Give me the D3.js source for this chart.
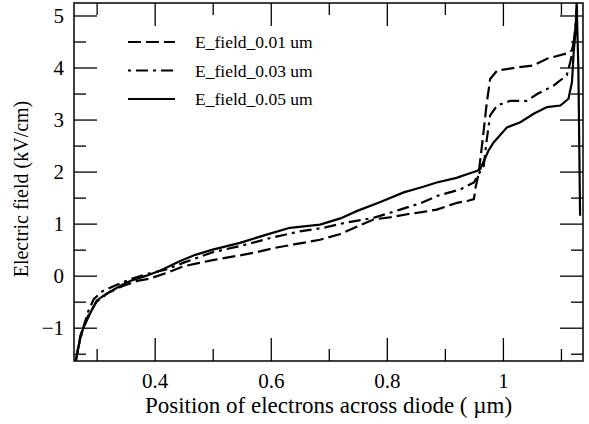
<!DOCTYPE html>
<html>
<head>
<meta charset="utf-8">
<script src="https://cdn.jsdelivr.net/npm/d3@7"></script>
<style>
  body { margin: 0; background: #fff; }
</style>
</head>
<body>
<div id="graph"></div>
<script>
const serif = "'Liberation Serif', 'Times New Roman', 'DejaVu Serif', serif";

// series labels
const seriesNames = ["E_field_0.01 um", "E_field_0.03 um", "E_field_0.05 um"];

// [position (um), field (kV/cm)]
const field001 = [[0.264,-1.64],[0.268,-1.4],[0.272,-1.15],[0.277,-1.0],[0.285,-0.78],[0.30,-0.5],[0.32,-0.33],
  [0.345,-0.2],[0.37,-0.1],[0.39,-0.06],[0.42,0.05],[0.45,0.18],[0.475,0.24],[0.5,0.3],[0.547,0.39],[0.575,0.45],
  [0.605,0.53],[0.64,0.6],[0.685,0.69],[0.72,0.8],[0.75,0.95],[0.777,1.08],[0.805,1.12],[0.835,1.18],[0.86,1.22],
  [0.886,1.27],[0.905,1.34],[0.921,1.40],[0.94,1.44],[0.95,1.47],[0.953,1.7],[0.958,1.95],[0.965,2.6],[0.972,3.3],
  [0.978,3.78],[0.99,3.94],[1.024,4.0],[1.053,4.04],[1.076,4.17],[1.11,4.27],[1.119,4.33],[1.124,4.6],[1.128,5.1]];

const field003 = [[0.264,-1.64],[0.27,-1.3],[0.277,-1.0],[0.285,-0.7],[0.295,-0.45],[0.31,-0.3],[0.33,-0.2],
  [0.36,-0.06],[0.386,0.03],[0.42,0.12],[0.45,0.25],[0.5,0.45],[0.547,0.57],[0.575,0.65],[0.605,0.74],[0.65,0.85],
  [0.691,0.92],[0.73,1.02],[0.777,1.11],[0.823,1.27],[0.86,1.4],[0.886,1.53],[0.927,1.66],[0.95,1.79],[0.958,1.95],
  [0.967,2.11],[0.972,2.6],[0.978,3.08],[0.99,3.27],[1.013,3.36],[1.041,3.36],[1.059,3.49],[1.087,3.65],[1.11,3.85],
  [1.116,4.1],[1.12,4.3],[1.125,4.8],[1.128,5.2]];

const field005 = [[0.264,-1.64],[0.268,-1.4],[0.273,-1.15],[0.278,-0.98],[0.29,-0.7],[0.30,-0.48],[0.315,-0.36],
  [0.329,-0.27],[0.345,-0.17],[0.363,-0.08],[0.386,0.0],[0.41,0.1],[0.444,0.28],[0.47,0.4],[0.5,0.5],[0.547,0.63],
  [0.59,0.78],[0.633,0.92],[0.685,0.98],[0.72,1.1],[0.748,1.24],[0.79,1.42],[0.829,1.6],[0.86,1.7],[0.886,1.79],
  [0.92,1.88],[0.938,1.95],[0.955,2.01],[0.961,2.05],[0.975,2.4],[0.984,2.56],[1.007,2.85],[1.03,2.95],[1.053,3.11],
  [1.076,3.24],[1.099,3.27],[1.113,3.4],[1.119,3.72],[1.122,4.3],[1.125,4.68],[1.127,5.24],[1.13,4.0],[1.133,1.15]];

// ticks
const xMajor = [0.4, 0.6, 0.8, 1.0];
const xMinor = [0.3, 0.5, 0.7, 0.9, 1.1];
const yMajor = [-1, 0, 1, 2, 3, 4, 5];
const yMinor = [-1.5, -0.5, 0.5, 1.5, 2.5, 3.5, 4.5];

const W = 589, H = 424;
const margin = {top: 3, right: 6, bottom: 63, left: 74};
const width = W - margin.left - margin.right;
const height = H - margin.top - margin.bottom;

const svg = d3.select("#graph").append("svg")
    .attr("width", W)
    .attr("height", H)
    .style("font-family", serif)
    .append("g")
    .attr("transform", "translate(" + margin.left + "," + margin.top + ")");

const x = d3.scaleLinear().domain([0.261, 1.138]).range([0, width]);
const y = d3.scaleLinear().domain([-1.64, 5.24]).range([height, 0]);

const fmt = d => d3.format("~g")(d);

function styleAxis(g) {
    g.attr("font-family", null).attr("font-size", null);
    g.select(".domain").remove();
    g.selectAll(".tick line").attr("stroke", "#000").attr("stroke-width", 1.3);
    g.selectAll(".tick text")
        .attr("fill", "#000")
        .style("font-family", serif)
        .style("font-size", "21px");
}

// bottom
svg.append("g").attr("transform", "translate(0," + height + ")")
    .call(d3.axisBottom(x).tickValues(xMajor).tickSizeInner(-23).tickSizeOuter(0).tickPadding(12).tickFormat(fmt))
    .call(styleAxis);
svg.append("g").attr("transform", "translate(0," + height + ")")
    .call(d3.axisBottom(x).tickValues(xMinor).tickSizeInner(-12).tickSizeOuter(0).tickFormat(""))
    .call(styleAxis);
// top
svg.append("g")
    .call(d3.axisTop(x).tickValues(xMajor).tickSizeInner(-23).tickSizeOuter(0).tickFormat(""))
    .call(styleAxis);
svg.append("g")
    .call(d3.axisTop(x).tickValues(xMinor).tickSizeInner(-12).tickSizeOuter(0).tickFormat(""))
    .call(styleAxis);
// left
svg.append("g")
    .call(d3.axisLeft(y).tickValues(yMajor).tickSizeInner(-23).tickSizeOuter(0).tickPadding(10).tickFormat(fmt))
    .call(styleAxis);
svg.append("g")
    .call(d3.axisLeft(y).tickValues(yMinor).tickSizeInner(-12).tickSizeOuter(0).tickFormat(""))
    .call(styleAxis);
// right
svg.append("g").attr("transform", "translate(" + width + ",0)")
    .call(d3.axisRight(y).tickValues(yMajor).tickSizeInner(-23).tickSizeOuter(0).tickFormat(""))
    .call(styleAxis);
svg.append("g").attr("transform", "translate(" + width + ",0)")
    .call(d3.axisRight(y).tickValues(yMinor).tickSizeInner(-12).tickSizeOuter(0).tickFormat(""))
    .call(styleAxis);

// clip + lines
svg.append("clipPath").attr("id", "clip")
    .append("rect").attr("width", width).attr("height", height);

const line = d3.line()
    .x(d => x(d[0]))
    .y(d => y(d[1]));

const dashes = ["13,5", "3,5,12,5", null];
const series = [field001, field003, field005];

svg.append("g").attr("clip-path", "url(#clip)")
    .selectAll("path")
    .data(series)
    .join("path")
    .attr("d", line)
    .attr("fill", "none")
    .attr("stroke", "#000")
    .attr("stroke-width", 2.2)
    .attr("stroke-dasharray", (d, i) => dashes[i]);

// frame
svg.append("rect")
    .attr("width", width)
    .attr("height", height)
    .attr("fill", "none")
    .attr("stroke", "#000")
    .attr("stroke-width", 1.5);

// legend
const legend = svg.append("g").attr("transform", "translate(54,39)");
seriesNames.forEach((name, i) => {
    const row = legend.append("g").attr("transform", "translate(0," + (i * 28.5) + ")");
    row.append("line")
        .attr("x1", 0).attr("x2", 47)
        .attr("stroke", "#000")
        .attr("stroke-width", 2.2)
        .attr("stroke-dasharray", dashes[i]);
    row.append("text")
        .attr("x", 67)
        .attr("dy", "0.35em")
        .style("font-family", serif)
        .style("font-size", "17.5px")
        .text(name);
});

// axis titles
svg.append("text")
    .attr("x", width / 2)
    .attr("y", height + 52)
    .attr("text-anchor", "middle")
    .style("font-family", serif)
    .style("font-size", "23px")
    .text("Position of electrons across diode ( \u00b5m)");

svg.append("text")
    .attr("transform", "rotate(-90)")
    .attr("x", -(189 - margin.top))
    .attr("y", -46)
    .attr("text-anchor", "middle")
    .style("font-family", serif)
    .style("font-size", "20px")
    .text("Electric field (kV/cm)");
</script>
</body>
</html>
